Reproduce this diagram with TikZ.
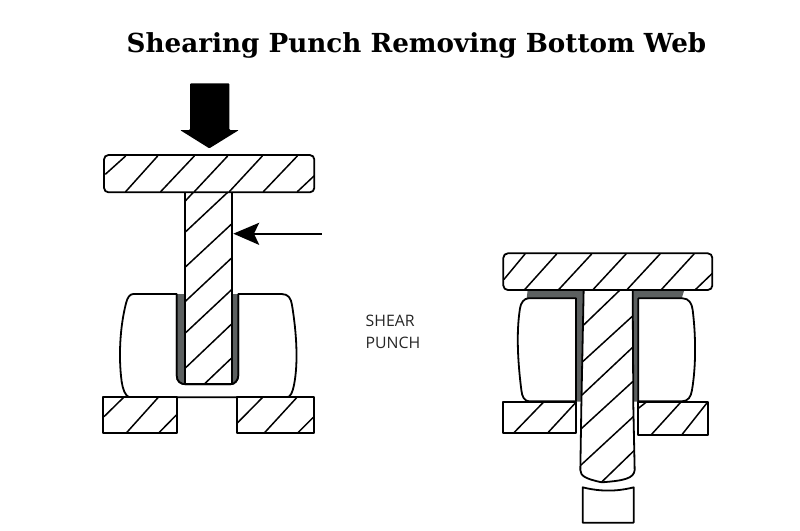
\documentclass[tikz,border=0pt]{standalone}
\usepackage{fontspec}
\setmainfont{Open Sans}
\newfontfamily\titlefont{DejaVu Serif}
\definecolor{webgrey}{HTML}{5C6060}
\tikzset{
  outline/.style={draw=black,line width=1.8pt,line join=round,fill=white},
  hatchline/.style={draw=black,line width=1.5pt,line cap=round},
  web/.style={fill=webgrey,draw=none},
  solidblack/.style={fill=black,draw=none},
  caption/.style={font=\fontsize{15.8}{22}\selectfont,align=left,text=black!85,inner sep=0pt,anchor=north west}
}
\begin{document}
\begin{tikzpicture}[x=1pt,y=-1pt]
\useasboundingbox (0,0) rectangle (800,530);
\fill[white] (0,0) rectangle (800,530);
\node[font=\titlefont\bfseries\fontsize{26.2}{30}\selectfont,anchor=base,inner sep=0pt] (title) at (416.5,52) {Shearing Punch Removing Bottom Web};
\node[caption] (shear) at (365.5,315) {SHEAR\\PUNCH};

% ---- upper left: arrows, plate, stem
\begin{scope}[shift={(90,70)},x=0.33333pt,y=-0.33333pt]
  \fill[solidblack,rounded corners=1pt] (300,40) -- (418,40) -- (418,180) -- (447,180) -- (358,235) -- (270,180) -- (300,180) -- cycle;
  \coordinate (tail) at (695,491);
  \coordinate (tipin) at (490,491);
  \draw[black,line width=2.2pt] (tail) -- (tipin);
  \fill[solidblack] (430,491) -- (508,458) -- (492,491) -- (508,525) -- cycle;
  \draw[outline] (284,367) rectangle (427,640);
  \draw[outline,rounded corners=4.5pt] (42,255) rectangle (673,367);
  \foreach \a/\b/\c/\d in {47/312/107/258,107/365/203/258,212/365/313/258,313/365/413/258,418/365/517/258,520/365/622/258,622/365/672/318,
    284/395/310/367,284/488/413/367,284/593/427/460}
    \draw[hatchline] (\a,\b) -- (\c,\d);
\end{scope}

% ---- lower left
\begin{scope}[shift={(90,270)},x=0.33333pt,y=-0.33333pt]
  \draw[outline] (130,72) -- (260,72) -- (260,315) .. controls (260,335) and (272,343) .. (290,343) -- (420,343) .. controls (435,343) and (445,330) .. (445,315) -- (445,72) -- (575,72)
    .. controls (595,72) and (603,85) .. (606,105) .. controls (620,190) and (625,280) .. (612,345) .. controls (608,365) and (602,382) .. (590,382)
    -- (118,382) .. controls (105,378) and (98,355) .. (95,335) .. controls (85,260) and (90,170) .. (108,100) .. controls (112,82) and (120,72) .. (130,72) -- cycle;
  \fill[web] (260,72) -- (284,72) -- (284,343) .. controls (270,341) and (260,332) .. (260,315) -- cycle;
  \fill[web] (427,72) -- (445,72) -- (445,315) .. controls (445,330) and (436,341) .. (427,343) -- cycle;
  \draw[outline] (284,-5) -- (284,343) -- (427,343) -- (427,-5);
  \draw[black,line width=1.8pt] (260,72) -- (260,315) .. controls (260,335) and (272,343) .. (290,343) -- (420,343) .. controls (435,343) and (445,330) .. (445,315) -- (445,72);
  \draw[outline] (40,382) rectangle (261,490);
  \draw[outline] (440,382) rectangle (672,490);
  \foreach \a/\b/\c/\d in {285/95/427/-38,285/190/427/57,285/295/427/160,342/343/427/262,
    42/440/100/383,108/490/204/383,205/490/260/434,441/460/517/383,522/490/620/383,622/490/670/442}
    \draw[hatchline] (\a,\b) -- (\c,\d);
\end{scope}

% ---- right assembly
\begin{scope}[shift={(490,240)},x=0.33333pt,y=-0.33333pt]
  \fill[web] (113,150) -- (281,150) -- (276,485) -- (258,485) -- (258,175) -- (110,175) -- cycle;
  \fill[web] (428,150) -- (583,150) -- (575,175) -- (445,175) -- (445,485) -- (430,485) -- cycle;
  \draw[outline] (115,175) -- (258,175) -- (258,484) -- (118,484) .. controls (103,484) and (96,470) .. (94,450) .. controls (84,370) and (78,280) .. (90,205) .. controls (92,188) and (103,175) .. (115,175) -- cycle;
  \draw[outline] (445,175) -- (578,175) .. controls (596,175) and (606,190) .. (608,210) .. controls (618,290) and (618,380) .. (606,450) .. controls (603,470) and (595,484) .. (575,484) -- (445,484) -- cycle;
  \draw[outline] (40,485) rectangle (258,580);
  \draw[outline] (445,485) rectangle (654,585);
  \draw[outline] (281,150) -- (274,500) -- (271,690) .. controls (272,708) and (285,716) .. (335,727) .. controls (400,722) and (432,716) .. (434,690) -- (430,500) -- (428,150);
  \draw[outline] (278,742) .. controls (330,755) and (380,755) .. (431,742) -- (431,848) -- (278,848) -- cycle;
  \draw[outline,rounded corners=4.5pt] (40,40) rectangle (667,150);
  \foreach \a/\b/\c/\d in {42/118/105/42,103/150/200/42,205/150/305/42,308/150/408/42,410/150/510/42,513/150/612/42,615/150/667/100,
    281/255/390/150,278/365/428/228,276/465/428/322,275/565/428/425,273/675/430/530,335/726/432/632,
    70/580/160/487,172/580/255/490,445/505/468/487,483/585/572/487,575/585/650/490}
    \draw[hatchline] (\a,\b) -- (\c,\d);
\end{scope}
\end{tikzpicture}
\end{document}
